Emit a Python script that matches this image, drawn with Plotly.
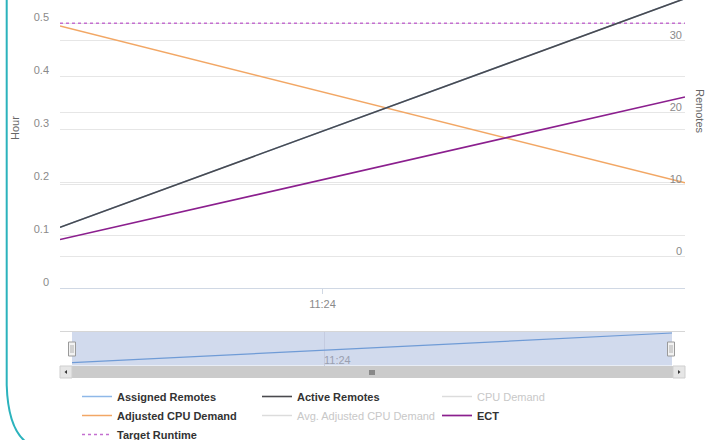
import plotly.graph_objects as go

# ---------------- data ----------------
times = ["2015-06-01 11:23:18", "2015-06-01 11:24:58"]
assigned_remotes = [4.1, 35.9]
active_remotes = [4.1, 35.9]
cpu_demand = [None, None]               # hidden series (no visible values)
adjusted_cpu_demand = [0.495, 0.199]
avg_adjusted_cpu_demand = [None, None]  # hidden series (no visible values)
ect = [0.092, 0.361]
target_runtime = [0.5, 0.5]

hour_ticks = [0, 0.1, 0.2, 0.3, 0.4, 0.5]
hour_labels = ["0", "0.1", "0.2", "0.3", "0.4", "0.5"]
remote_ticks = [0, 10, 20, 30]
time_ticks = ["2015-06-01 11:24:00"]
time_labels = ["11:24"]

# ---------------- layout helpers ----------------
W, H = 712, 440
ML, MR, MT, MB = 60, 27, 0, 60
PW, PH = W - ML - MR, H - MT - MB


def px(x):
    return (x - ML) / PW


def py(y):
    return (MT + PH - y) / PH


FONT = "Liberation Sans, Arial, sans-serif"
TICK_COLOR = "#8a8a8a"
GRID = "#e6e6e6"
HIDDEN = "<span style='color:#c8c8c8;font-weight:normal'>%s</span>"

fig = go.Figure()

fig.add_trace(go.Scatter(x=times, y=assigned_remotes, name="Assigned Remotes",
                         mode="lines", yaxis="y2", line=dict(color="#8fb8e8", width=1.5)))
fig.add_trace(go.Scatter(x=times, y=active_remotes, name="Active Remotes",
                         mode="lines", yaxis="y2", line=dict(color="#4a4a4e", width=1.6)))
fig.add_trace(go.Scatter(x=times, y=cpu_demand, name=HIDDEN % "CPU Demand",
                         mode="lines", line=dict(color="#dcdcdc", width=1.5)))
fig.add_trace(go.Scatter(x=times, y=adjusted_cpu_demand, name="Adjusted CPU Demand",
                         mode="lines", line=dict(color="#f2a765", width=1.5)))
fig.add_trace(go.Scatter(x=times, y=avg_adjusted_cpu_demand,
                         name=HIDDEN % "Avg. Adjusted CPU Demand",
                         mode="lines", line=dict(color="#dcdcdc", width=1.5)))
fig.add_trace(go.Scatter(x=times, y=ect, name="ECT",
                         mode="lines", line=dict(color="#8b1f8e", width=1.7)))
fig.add_trace(go.Scatter(x=times, y=target_runtime, name="Target Runtime",
                         mode="lines", line=dict(color="#c46fd0", width=1.4, dash="dot")))
# navigator series
fig.add_trace(go.Scatter(x=times, y=assigned_remotes, xaxis="x2", yaxis="y3",
                         mode="lines", showlegend=False, hoverinfo="skip",
                         line=dict(color="#6f9bd6", width=1.2)))

main_bottom = py(288.3)
nav_top, nav_bot = py(331.7), py(365.5)

fig.update_layout(
    width=W, height=H, autosize=False,
    margin=dict(l=ML, r=MR, t=MT, b=MB, autoexpand=False),
    paper_bgcolor="white", plot_bgcolor="white",
    font=dict(family=FONT, size=11, color="#555"),
    showlegend=True,
    xaxis=dict(domain=[0, 1], anchor="y", type="date", range=times,
               tickvals=time_ticks, ticktext=time_labels, showgrid=False,
               showline=True, linecolor="#d0d8e4", linewidth=1,
               ticks="outside", ticklen=5, tickcolor="#d0d8e4",
               tickfont=dict(size=11, color=TICK_COLOR), zeroline=False),
    yaxis=dict(domain=[main_bottom, 1], anchor="x", range=[0, 0.544],
               tickvals=hour_ticks, ticktext=hour_labels, gridcolor=GRID,
               zeroline=False, showline=False, ticks="",
               ticklabelstandoff=10, ticklabelshift=-6,
               tickfont=dict(size=11, color=TICK_COLOR)),
    yaxis2=dict(overlaying="y", side="right", anchor="x", range=[-4.39, 35.70],
                tickvals=remote_ticks, gridcolor=GRID, zeroline=False,
                showline=False, ticks="", ticklabelposition="inside",
                ticklabelshift=-6, ticklabelstandoff=0,
                tickfont=dict(size=11, color=TICK_COLOR)),
    xaxis2=dict(domain=[px(72), px(672)], anchor="y3", type="date", range=times,
                tickvals=time_ticks, ticktext=time_labels, showgrid=True,
                gridcolor="#c4cbe0", showline=False, ticks="",
                ticklabelposition="inside right", ticklabelstandoff=-7,
                tickfont=dict(size=11, color="#9aa0b0"), zeroline=False),
    yaxis3=dict(domain=[nav_bot, nav_top], anchor="x2", range=[1.1, 37.3],
                visible=False),
    legend=dict(orientation="h", x=px(77), y=py(382), xanchor="left", yanchor="top",
                entrywidth=135, entrywidthmode="pixels",
                font=dict(family=FONT, size=11, color="#333", weight="bold"),
                bgcolor="rgba(0,0,0,0)", tracegroupgap=0, itemwidth=30),
)

shapes = []
# navigator mask
shapes.append(dict(type="rect", xref="paper", yref="paper", layer="below",
                   x0=px(72), x1=px(672), y0=py(365.5), y1=py(331.7),
                   fillcolor="rgba(102,133,194,0.3)", line=dict(width=0)))
# navigator outline
shapes.append(dict(type="line", xref="paper", yref="paper",
                   x0=px(60), x1=px(685), y0=py(331.5), y1=py(331.5),
                   line=dict(color="#d6d6d6", width=1)))
# handles
for cx in (72, 671):
    shapes.append(dict(type="rect", xref="paper", yref="paper",
                       x0=px(cx - 3.5), x1=px(cx + 3.5), y0=py(356), y1=py(342),
                       fillcolor="#f2f2f2", line=dict(color="#9a9a9a", width=1)))
    for dx in (-1, 1):
        shapes.append(dict(type="line", xref="paper", yref="paper",
                           x0=px(cx + dx), x1=px(cx + dx), y0=py(353), y1=py(345),
                           line=dict(color="#b0b0b0", width=1)))
# scrollbar
shapes.append(dict(type="rect", xref="paper", yref="paper",
                   x0=px(60), x1=px(685), y0=py(378), y1=py(366),
                   fillcolor="#e8e8e8", line=dict(width=0)))
shapes.append(dict(type="rect", xref="paper", yref="paper",
                   x0=px(72), x1=px(673), y0=py(378), y1=py(366),
                   fillcolor="#cbcbcb", line=dict(width=0)))
for bx in (60, 673):
    shapes.append(dict(type="rect", xref="paper", yref="paper",
                       x0=px(bx), x1=px(bx + 12), y0=py(378), y1=py(366),
                       fillcolor="#e6e6e6", line=dict(color="#cfcfcf", width=1)))
# arrows
shapes.append(dict(type="path", xref="paper", yref="paper",
                   path=f"M {px(64.5)} {py(372)} L {px(67)} {py(370)} L {px(67)} {py(374)} Z",
                   fillcolor="#333", line=dict(width=0)))
shapes.append(dict(type="path", xref="paper", yref="paper",
                   path=f"M {px(680.5)} {py(372)} L {px(678)} {py(370)} L {px(678)} {py(374)} Z",
                   fillcolor="#333", line=dict(width=0)))
# grip
for gx in (370, 372, 374):
    shapes.append(dict(type="line", xref="paper", yref="paper",
                       x0=px(gx), x1=px(gx), y0=py(375), y1=py(370),
                       line=dict(color="#444", width=1)))
# teal frame edge
shapes.append(dict(type="path", xref="paper", yref="paper",
                   path=(f"M {px(6.7)} {py(-2)} L {px(6.7)} {py(385)} "
                         f"Q {px(8)} {py(428)} {px(26)} {py(442)}"),
                   line=dict(color="#2bb3bd", width=2)))
fig.update_layout(shapes=shapes)

fig.add_annotation(text="Hour", xref="paper", yref="paper", x=px(15), y=py(128),
                   xanchor="center", yanchor="middle",
                   showarrow=False, textangle=-90,
                   font=dict(family=FONT, size=11, color="#666"))
fig.add_annotation(text="Remotes", xref="paper", yref="paper", x=px(700), y=py(111),
                   xanchor="center", yanchor="middle",
                   showarrow=False, textangle=90,
                   font=dict(family=FONT, size=11, color="#666"))

fig.write_html("out.html")
